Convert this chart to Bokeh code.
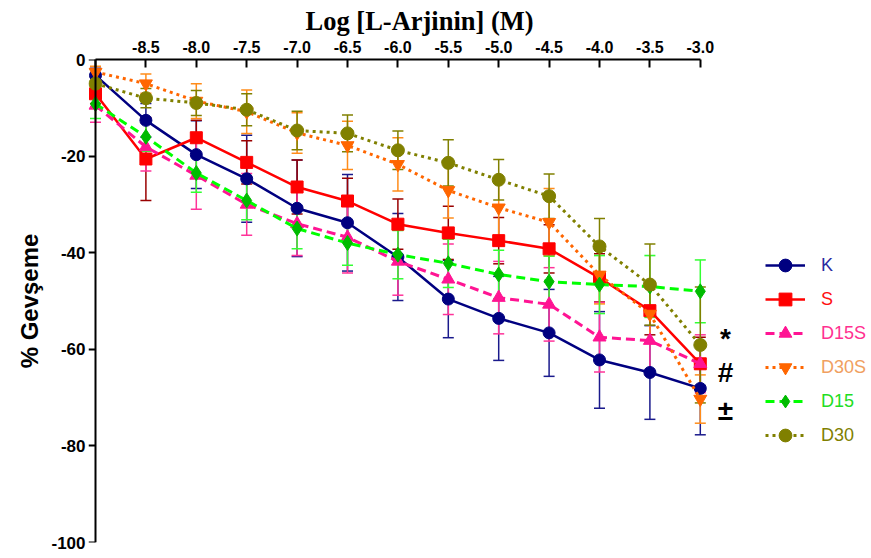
from bokeh.plotting import figure
from bokeh.models import (Range1d, FixedTicker, ColumnDataSource, Whisker, TeeHead,
                          Legend, LegendItem, LinearAxis)
from bokeh.core.properties import value
from bokeh.embed import file_html
from bokeh.resources import INLINE

# ---------------- data ----------------
log_conc = [-9.0, -8.5, -8.0, -7.5, -7.0, -6.5, -6.0, -5.5, -5.0, -4.5, -4.0, -3.5, -3.0]
x_tick_labels = ["", "-8.5", "-8.0", "-7.5", "-7.0", "-6.5", "-6.0", "-5.5",
                 "-5.0", "-4.5", "-4.0", "-3.5", "-3.0"]
y_ticks = [0, -20, -40, -60, -80, -100]
y_tick_labels = ["0", "-20", "-40", "-60", "-80", "-100"]

series_names = ["K", "S", "D15S", "D30S", "D15", "D30"]

K_mean = [-3.3, -12.6, -19.7, -24.7, -30.8, -33.8, -40.9, -49.6, -53.6, -56.6, -62.2, -64.8, -68.1]
K_sem = [1.5, 3.5, 7.0, 9.0, 10.0, 10.0, 9.0, 8.0, 8.7, 9.0, 10.0, 9.7, 9.6]

S_mean = [-7.1, -20.6, -16.2, -21.3, -26.4, -29.3, -34.1, -35.9, -37.5, -39.2, -45.2, -52.0, -63.0]
S_sem = [2.0, 8.6, 3.6, 4.5, 5.6, 4.7, 5.2, 5.5, 4.8, 5.0, 5.0, 5.0, 5.5]

D15S_mean = [-9.5, -18.1, -24.0, -30.0, -34.0, -36.8, -41.8, -45.5, -49.3, -50.7, -57.5, -58.2, -63.0]
D15S_sem = [3.5, 5.0, 7.0, 6.4, 6.6, 7.4, 7.0, 7.3, 7.5, 7.6, 7.2, 7.0, 6.0]

D30S_mean = [-2.6, -5.0, -8.6, -10.8, -15.2, -17.8, -21.7, -27.1, -30.7, -33.7, -44.6, -52.7, -70.3]
D30S_sem = [1.2, 2.0, 3.6, 4.5, 4.2, 5.0, 5.5, 5.7, 6.0, 7.0, 6.0, 6.0, 5.0]

D15_mean = [-9.2, -16.0, -23.5, -29.2, -35.0, -38.0, -40.4, -42.2, -44.5, -46.0, -46.6, -47.0, -48.0]
D15_sem = [3.0, 3.0, 4.0, 4.0, 4.2, 4.6, 5.0, 5.0, 5.0, 5.3, 6.0, 6.4, 6.5]

D30_mean = [-5.0, -8.0, -9.0, -10.4, -14.7, -15.3, -18.8, -21.4, -24.9, -28.3, -38.7, -46.6, -59.1]
D30_sem = [2.0, 2.0, 2.6, 3.3, 4.0, 3.8, 4.0, 4.8, 4.2, 4.6, 5.8, 8.4, 12.0]

annot_text = ["*", "#", "\u00b1"]
annot_x = [-2.75, -2.75, -2.75]
annot_y = [-57.8, -64.8, -72.7]

means = {"K": K_mean, "S": S_mean, "D15S": D15S_mean, "D30S": D30S_mean,
         "D15": D15_mean, "D30": D30_mean}
sems = {"K": K_sem, "S": S_sem, "D15S": D15S_sem, "D30S": D30S_sem,
        "D15": D15_sem, "D30": D30_sem}

# ---------------- styles ----------------
styles = {
    "K":    dict(line="#000080", marker="#000080", err="#1a1a8c", label="#2a2aa0",
                 dash="solid", lw=2.5, mk="circle", size=12),
    "S":    dict(line="#ff0000", marker="#ff0000", err="#990000", label="#ff1010",
                 dash="solid", lw=2.5, mk="square", size=12),
    "D15S": dict(line="#ff1493", marker="#ff1493", err="#ff3399", label="#ff3090",
                 dash="9 5", lw=3, mk="triangle", size=13),
    "D30S": dict(line="#ff6600", marker="#ff6600", err="#ff8c1a", label="#f0a060",
                 dash="3 4", lw=3, mk="inverted_triangle", size=13),
    "D15":  dict(line="#00ff00", marker="#00bb00", err="#33ff33", label="#22dd22",
                 dash="9 5", lw=3, mk="diamond", size=15),
    "D30":  dict(line="#808000", marker="#808000", err="#808000", label="#808000",
                 dash="3 4", lw=3, mk="circle", size=13),
}

FONT = "Liberation Sans"

W, H = 871, 558
FRAME_L = 88                 # frame left edge (px); y axis line drawn at x=-9
AXIS_X = 95                  # screen x of x=-9
PX_PER_UNIT = 100.8
x_start = -9.0 - (AXIS_X - FRAME_L) / PX_PER_UNIT
x_end = x_start + (W - FRAME_L) / PX_PER_UNIT

p = figure(width=W, height=H,
           x_range=Range1d(x_start, x_end), y_range=Range1d(-100, 0),
           x_axis_location="above", y_axis_location="left",
           output_backend="svg", toolbar_location=None,
           min_border_left=FRAME_L, min_border_top=59, min_border_bottom=16,
           min_border_right=0)
p.grid.visible = False
p.outline_line_color = None
p.background_fill_color = "white"
p.border_fill_color = "white"

# title = x axis caption
p.title.text = "Log [L-Arjinin]  (M)"
p.title.align = "left"
p.title.offset = 305 - FRAME_L
p.title.text_font = "Liberation Serif"
p.title.text_font_style = "bold"
p.title.text_font_size = "26.5px"
p.title.text_color = "black"
p.title.standoff = 4

# x axis (top)
xa = p.xaxis[0]
xa.ticker = FixedTicker(ticks=log_conc)
xa.major_label_overrides = {t: l for t, l in zip(log_conc, x_tick_labels)}
xa.bounds = (-9.0, -3.0)
xa.major_label_text_font = FONT
xa.major_label_text_font_style = "bold"
xa.major_label_text_font_size = "16px"
xa.major_label_text_color = "black"
xa.major_label_standoff = 7
xa.major_tick_in = 8
xa.major_tick_out = 0
xa.minor_tick_line_color = None
xa.axis_line_width = 2
xa.major_tick_line_width = 2
xa.axis_line_color = "black"
xa.major_tick_line_color = "black"

# y axis labels + caption (at frame edge, no line)
ya = p.yaxis[0]
ya.ticker = FixedTicker(ticks=y_ticks)
ya.major_label_overrides = {t: l for t, l in zip(y_ticks, y_tick_labels)}
ya.major_label_text_font = FONT
ya.major_label_text_font_style = "bold"
ya.major_label_text_font_size = "17px"
ya.major_label_text_color = "black"
ya.major_label_standoff = 3
ya.major_tick_in = 0
ya.major_tick_out = 0
ya.major_tick_line_color = None
ya.minor_tick_line_color = None
ya.axis_line_color = None
ya.axis_label = "% Gevşeme"
ya.axis_label_text_font = FONT
ya.axis_label_text_font_style = "bold"
ya.axis_label_text_font_size = "24px"
ya.axis_label_text_color = "black"
ya.axis_label_standoff = 5

# y axis line + ticks pinned at x = -9 (labels come from the axis above)
yl = LinearAxis(fixed_location=-9.0)
yl.ticker = FixedTicker(ticks=y_ticks)
yl.major_label_overrides = {t: "" for t in y_ticks}
yl.major_label_standoff = 0
yl.major_tick_in = 0
yl.major_tick_out = 7
yl.minor_tick_line_color = None
yl.axis_line_width = 2
yl.major_tick_line_width = 2
yl.axis_line_color = "black"
yl.major_tick_line_color = "black"
p.add_layout(yl, "left")

renderers = {}
for name in series_names:
    st = styles[name]
    m = means[name]
    e = sems[name]
    src = ColumnDataSource(dict(x=log_conc, y=m,
                                upper=[a + b for a, b in zip(m, e)],
                                lower=[a - b for a, b in zip(m, e)]))
    ln = p.line("x", "y", source=src, line_color=st["line"], line_width=st["lw"],
                line_dash=st["dash"])
    sc = p.scatter("x", "y", source=src, marker=st["mk"], size=st["size"],
                   fill_color=st["marker"], line_color=st["marker"])
    wk = Whisker(source=src, base="x", upper="upper", lower="lower",
                 line_color=st["err"], line_width=1.5,
                 upper_head=TeeHead(size=11, line_color=st["err"], line_width=1.5),
                 lower_head=TeeHead(size=11, line_color=st["err"], line_width=1.5))
    p.add_layout(wk)
    renderers[name] = [ln, sc]

p.text(x=annot_x, y=annot_y, text=annot_text, text_align="center",
       text_baseline="middle", text_font=value(FONT), text_font_size="28px",
       text_font_style="bold", text_color="black")

# legend: one per entry so each label gets its own colour
GLYPH_H = 32
leg_left = 765 - FRAME_L     # px from frame left
leg_center0 = 265            # px from figure top, centre of first entry
leg_step = 34
frame_bottom = 542
for i, name in enumerate(series_names):
    st = styles[name]
    item_center = leg_center0 + i * leg_step
    lg = Legend(items=[LegendItem(label=name, renderers=renderers[name])],
                location=(leg_left, frame_bottom - item_center - GLYPH_H / 2),
                padding=0, margin=0, spacing=0,
                glyph_width=40, glyph_height=GLYPH_H, label_standoff=16,
                label_text_font=FONT, label_text_font_size="18px",
                label_text_color=st["label"],
                border_line_color=None, background_fill_alpha=0)
    p.add_layout(lg, "center")

open("out.html", "w").write(file_html(p, INLINE))
